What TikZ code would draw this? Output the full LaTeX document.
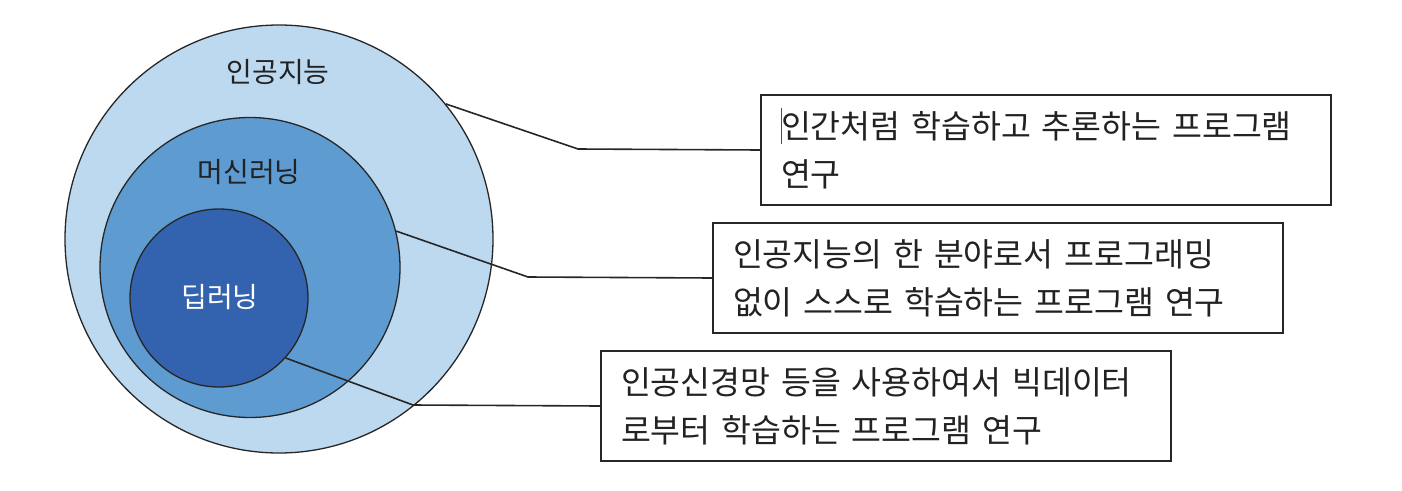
\documentclass[tikz,border=0pt]{standalone}
\usepackage{fontspec}
\setmainfont{Noto Sans CJK KR}
\definecolor{aiblue}{HTML}{BDD9F0}
\definecolor{mlblue}{HTML}{5E9BD0}
\definecolor{dlblue}{HTML}{3363AE}
\definecolor{txt}{HTML}{222222}
\begin{document}
\begin{tikzpicture}[x=1pt,y=-1pt,
  ring/.style={circle,draw=black!85,line width=1.3pt,inner sep=0pt},
  lbl/.style={font=\fontsize{28}{32}\selectfont,text=txt},
  descbox/.style={draw=black!85,line width=2pt,anchor=north west,align=left,
    text width=530pt,inner xsep=20pt,inner ysep=0pt,minimum height=110pt,
    font=\fontsize{32.5}{48}\selectfont,text=txt},
  conn/.style={draw=black!85,line width=1.6pt}]
\useasboundingbox (0,0) rectangle (1402,490);
\node[ring,fill=aiblue,minimum size=428pt] (ai) at (279,239) {};
\node[ring,fill=mlblue,minimum size=300pt] (ml) at (250,267.5) {};
\node[ring,fill=dlblue,minimum size=178pt] (dl) at (219,298) {};
\node[lbl] (ailbl) at (278,72) {인공지능};
\node[lbl] (mllbl) at (249,172) {머신러닝};
\node[lbl,text=white] (dllbl) at (220,297) {딥러닝};
\node[descbox] (b1) at (760,94) {인간처럼 학습하고 추론하는 프로그램\\연구};
\node[descbox] (b2) at (712,222) {인공지능의 한 분야로서 프로그래밍\\없이 스스로 학습하는 프로그램 연구};
\node[descbox] (b3) at (600,350) {인공신경망 등을 사용하여서 빅데이터\\로부터 학습하는 프로그램 연구};
\coordinate (k1) at (578,149);
\coordinate (k2) at (528,277);
\coordinate (k3) at (413,405);
\draw[conn] (ai.39.7) -- (k1) -- (b1.west);
\draw[conn] (ml.14) -- (k2) -- (b2.west);
\draw[conn] (dl.-42.4) -- (k3) -- (b3.west);
\coordinate (cur1) at (781,108);
\coordinate (cur2) at (781,144);
\draw[black!70,line width=1pt] (cur1) -- (cur2);
\end{tikzpicture}
\end{document}
